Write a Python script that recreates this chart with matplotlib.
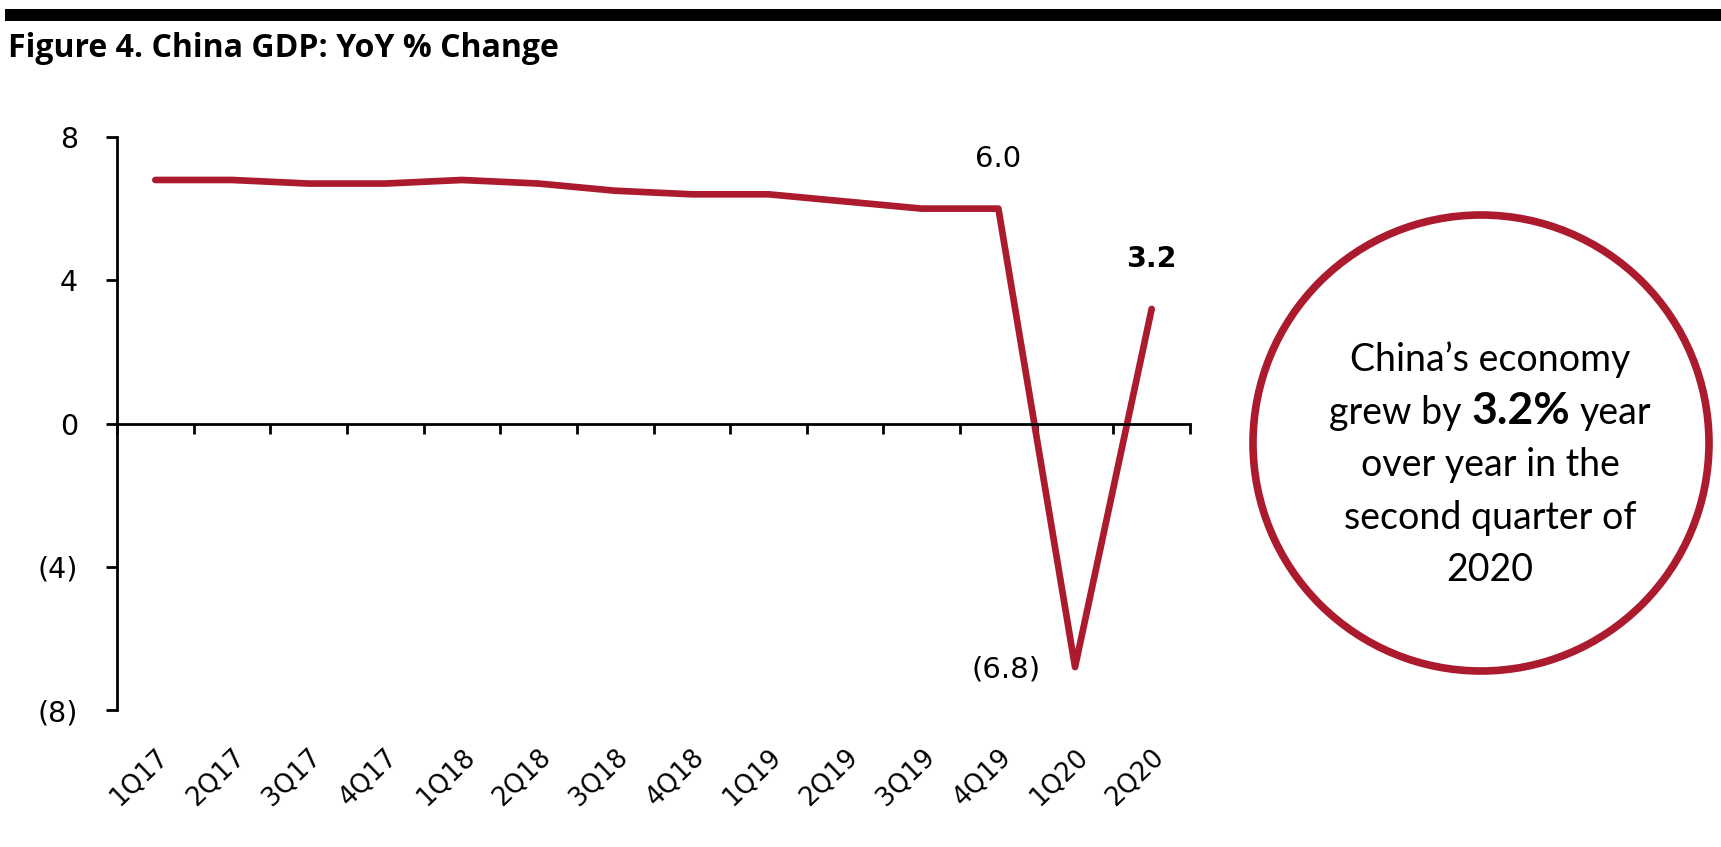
import numpy as np
import matplotlib.pyplot as plt
from matplotlib.patches import Circle, Rectangle

# data
quarters = ['1Q17', '2Q17', '3Q17', '4Q17', '1Q18', '2Q18', '3Q18', '4Q18',
            '1Q19', '2Q19', '3Q19', '4Q19', '1Q20', '2Q20']
gdp_yoy = [6.8, 6.8, 6.7, 6.7, 6.8, 6.7, 6.5, 6.4, 6.4, 6.2, 6.0, 6.0, -6.8, 3.2]
y_ticks = [8, 4, 0, -4, -8]
y_tick_labels = ['8', '4', '0', '(4)', '(8)']

title = 'Figure 4. China GDP: YoY % Change'
circle_lines = ["China\u2019s economy", None, 'over year in the', 'second quarter of', '2020']
mixed_line = [('grew by', 'normal'), ('3.2%', 'bold'), ('year', 'normal')]

red = '#AB1A2D'
W, H = 1721, 847
plt.rcParams['font.family'] = 'DejaVu Sans'

fig = plt.figure(figsize=(W / 100, H / 100), dpi=100)
ax = fig.add_axes([117 / W, 1 - 710 / H, (1190 - 117) / W, (710 - 137) / H])

x = np.arange(len(quarters))
ax.plot(x, gdp_yoy, color=red, lw=4.8, solid_joinstyle='round', solid_capstyle='round')
ax.set_xlim(-0.5, len(quarters) - 0.5)
ax.set_ylim(-8, 8)

for s in ['top', 'right']:
    ax.spines[s].set_visible(False)
ax.spines['left'].set_linewidth(2)
ax.spines['bottom'].set_linewidth(2)
ax.spines['bottom'].set_position(('data', 0))

ax.set_yticks(y_ticks, y_tick_labels)
ax.tick_params(axis='y', length=8, width=2, pad=20, labelsize=20.5)

# labels at category centres, tick marks at the boundaries
ax.set_xticks(x, quarters)
ax.set_xticks(np.arange(len(quarters) + 1) - 0.5, minor=True)
ax.tick_params(axis='x', which='major', length=0, pad=231, labelsize=18.5)
ax.tick_params(axis='x', which='minor', length=7, width=2)
plt.setp(ax.get_xticklabels(), rotation=44, ha='right', va='top', rotation_mode='anchor')

# data labels
ax.annotate('6.0', (11, gdp_yoy[11]), xytext=(0, 36), textcoords='offset points',
            ha='center', va='center', fontsize=21)
ax.annotate('3.2', (13, gdp_yoy[13]), xytext=(0, 36), textcoords='offset points',
            ha='center', va='center', fontsize=20.5, weight='bold')
ax.annotate('(6.8)', (12, gdp_yoy[12]), xytext=(-50, -1.5), textcoords='offset points',
            ha='center', va='center', fontsize=21)

# top bar + title
fig.add_artist(Rectangle((5 / W, 1 - 21 / H), 1 - 5 / W, 12 / H,
                         transform=fig.transFigure, color='black', lw=0))
fig.text(8 / W, 1 - 57 / H, title, family='Open Sans', weight='bold',
         fontsize=23, va='baseline')

# callout circle
fig.add_artist(Circle((1481 / 100, (H - 443) / 100), 2.28, transform=fig.dpi_scale_trans,
                      fill=False, ec=red, lw=5.5))

cx = 1490 / 100
base0 = 371
step = 52.5
tkw = dict(family='Lato', fontsize=27, va='baseline', transform=fig.dpi_scale_trans)
for i, line in enumerate(circle_lines):
    y = (H - base0 - i * step) / 100
    if line is not None:
        fig.text(cx, y, line, ha='center', **tkw)

# mixed line: measure pieces then lay them out centred
r = fig.canvas.get_renderer()
y = (H - base0 - step) / 100
pieces = []
for s, w in mixed_line:
    t = fig.text(0, y, s, ha='left', **dict(tkw, fontsize=32 if w == 'bold' else 27), weight=w)
    pieces.append(t)
widths = [t.get_window_extent(r).width / 100 for t in pieces]
t1 = fig.text(0, 0, 'x x', family='Lato', fontsize=27)
t2 = fig.text(0, 0, 'xx', family='Lato', fontsize=27)
sp = (t1.get_window_extent(r).width - t2.get_window_extent(r).width) / 100
t1.remove()
t2.remove()
xpos = cx - (sum(widths) + sp * (len(widths) - 1)) / 2
for t, w in zip(pieces, widths):
    t.set_x(xpos)
    xpos += w + sp

fig.savefig('out.png', dpi=100)
